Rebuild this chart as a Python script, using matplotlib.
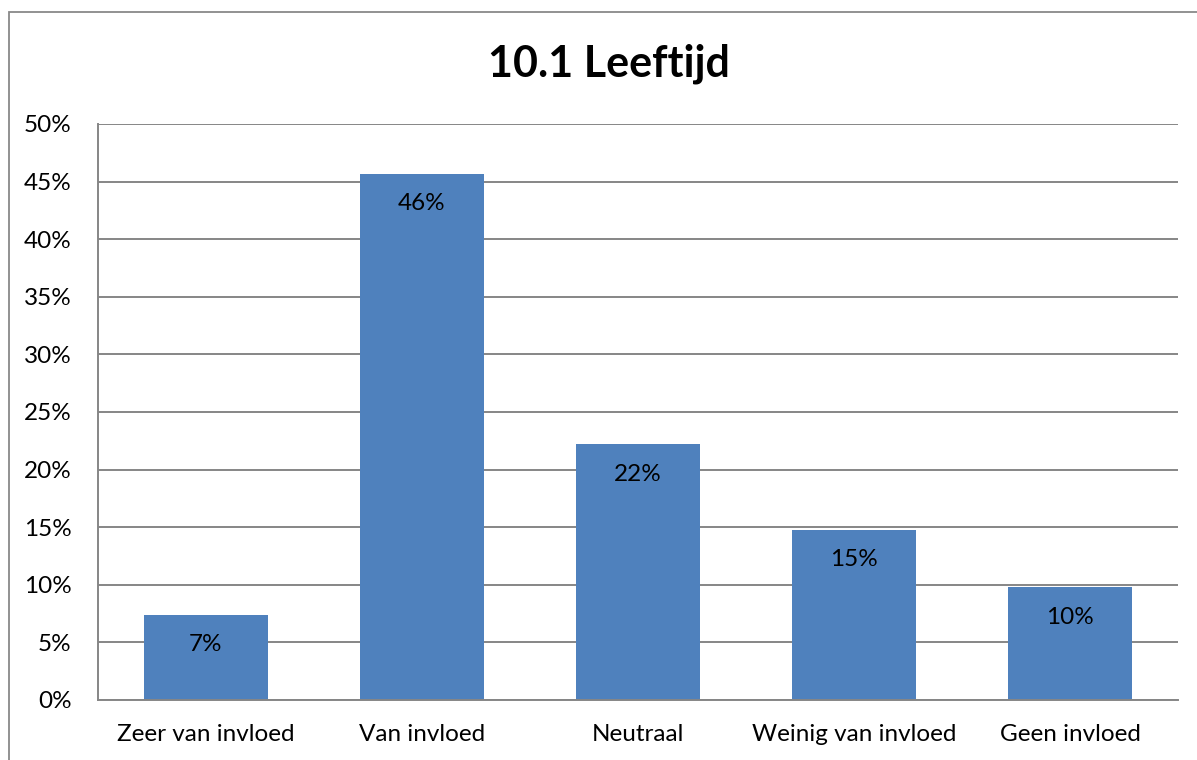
import matplotlib
matplotlib.use("Agg")
import matplotlib.pyplot as plt
from matplotlib.patches import Rectangle
from matplotlib.ticker import FuncFormatter

categories = ["Zeer van invloed", "Van invloed", "Neutraal", "Weinig van invloed", "Geen invloed"]
values = [7.4, 45.7, 22.2, 14.8, 9.8]
labels = ["7%", "46%", "22%", "15%", "10%"]
yticks = [0, 5, 10, 15, 20, 25, 30, 35, 40, 45, 50]
title = "10.1 Leeftijd"

plt.rcParams['font.family'] = ['Lato', 'DejaVu Sans']

W, H = 1197, 760
fig = plt.figure(figsize=(W / 100, H / 100), dpi=100)
fig.patch.set_facecolor("white")

# outer chart frame
fig.add_artist(Rectangle((9 / W, -0.1), 1.2, (H - 12) / H + 0.1, transform=fig.transFigure,
                         fill=False, edgecolor="#898989", linewidth=1.3))

ax = fig.add_axes([98 / W, 60 / H, 1080 / W, 576 / H])
x = list(range(len(categories)))
bars = ax.bar(x, values, width=0.57, color="#4F81BD", zorder=3)

ax.set_xlim(-0.5, len(categories) - 0.5)
ax.set_ylim(0, 50)
ax.set_yticks(yticks)
ax.yaxis.set_major_formatter(FuncFormatter(lambda v, p: f"{int(v)}%"))
ax.set_xticks(x)
ax.set_xticklabels(categories)
ax.tick_params(axis='both', length=0, labelsize=17.5, colors="black")
ax.tick_params(axis='y', pad=19)
ax.tick_params(axis='x', pad=17)

ax.grid(axis='y', color="#868686", linewidth=1.4, zorder=0)
ax.set_axisbelow(True)
for s in ["top", "right"]:
    ax.spines[s].set_visible(False)
for s in ["left", "bottom"]:
    ax.spines[s].set_color("#868686")
    ax.spines[s].set_linewidth(1.4)
    ax.spines[s].set_zorder(4)

for xi, v, lab in zip(x, values, labels):
    ax.annotate(lab, xy=(xi, v), xytext=(0, -21.6), textcoords='offset points',
                ha='center', va='center', fontsize=17.5, color="black", zorder=5)

fig.text(609 / W, 1 - 64 / H, title, ha='center', va='center', fontsize=31, fontweight='bold')

fig.savefig("out.png", dpi=100)
